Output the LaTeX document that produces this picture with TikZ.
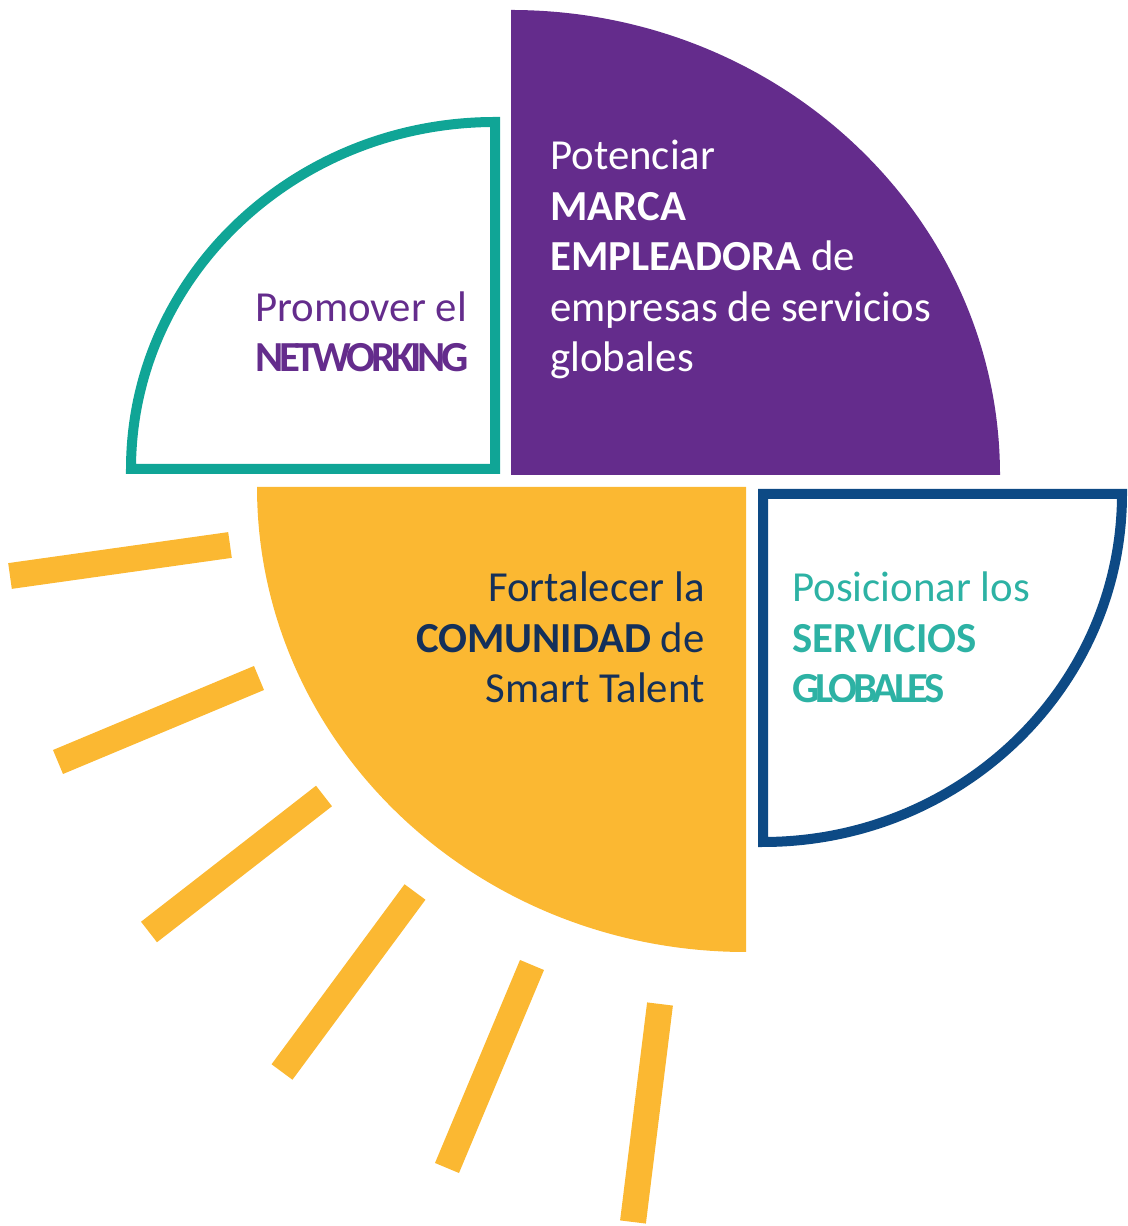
\documentclass[tikz,border=0pt]{standalone}
\usepackage{fontspec}
\setmainfont{Carlito}
\usepackage{tikz}
\definecolor{marcapurple}{HTML}{642C8C}
\definecolor{netteal}{HTML}{10A596}
\definecolor{sunyellow}{HTML}{FBB832}
\definecolor{servblue}{HTML}{0D4A85}
\definecolor{comnavy}{HTML}{14305A}
\definecolor{servteal}{HTML}{2DB2A4}
\tikzstyle{marca} = [fill=marcapurple, draw=none]
\tikzstyle{networking} = [draw=netteal, line width=5pt]
\tikzstyle{comunidad} = [fill=sunyellow, draw=none]
\tikzstyle{servicios} = [draw=servblue, line width=5pt]
\tikzstyle{sunray} = [draw=sunyellow, line width=13pt]
\tikzstyle{goal} = [inner sep=0pt, font=\fontsize{21.4}{25.3}\selectfont]
\newcommand{\tight}[1]{{\addfontfeature{LetterSpace=-10}#1}}

\begin{document}
\begin{tikzpicture}[x=0.5pt, y=0.5pt]
\useasboundingbox (0,0) rectangle (1128,1226);

% the four quarters
\draw [marca] (511,751) -- (511,1216) arc[start angle=90, end angle=0, x radius=489, y radius=465] -- cycle;
\draw [networking] (495,757) -- (495,1104) arc[start angle=90, end angle=180, x radius=364, y radius=347] -- cycle;
\draw [comunidad] (746,739) -- (746,274) arc[start angle=270, end angle=180, x radius=489, y radius=465] -- cycle;
\draw [servicios] (763,732) -- (1122,732) arc[start angle=0, end angle=-90, x radius=359, y radius=348] -- cycle;

% sun rays
\draw [sunray] (10,650) -- (230,681);
\draw [sunray] (58,464) -- (259,548);
\draw [sunray] (149,294) -- (324,430);
\draw [sunray] (282,154) -- (415,334);
\draw [sunray] (447,58) -- (532,261);
\draw [sunray] (633,4) -- (660,222);

% texts (base = last line)
\node (potenciar) [goal, anchor=base west, align=left, text=white] at (550,854)
  {Potenciar\\ \textbf{MARCA}\\ \textbf{EMPLEADORA} de\\ empresas de servicios\\ globales};
\node (promover) [goal, anchor=base west, align=left, text=marcapurple] at (255,854)
  {Promover el\\ \textbf{\tight{NETWORKING}}};
\node (fortalecer) [goal, anchor=base east, align=right, text=comnavy] at (705,523)
  {Fortalecer la\\ \textbf{COMUNIDAD} de\\ Smart Talent};
\node (posicionar) [goal, anchor=base west, align=left, text=servteal] at (792,523)
  {Posicionar los\\ \textbf{SERVICIOS}\\ \textbf{\tight{GLOBALES}}};

\end{tikzpicture}
\end{document}
